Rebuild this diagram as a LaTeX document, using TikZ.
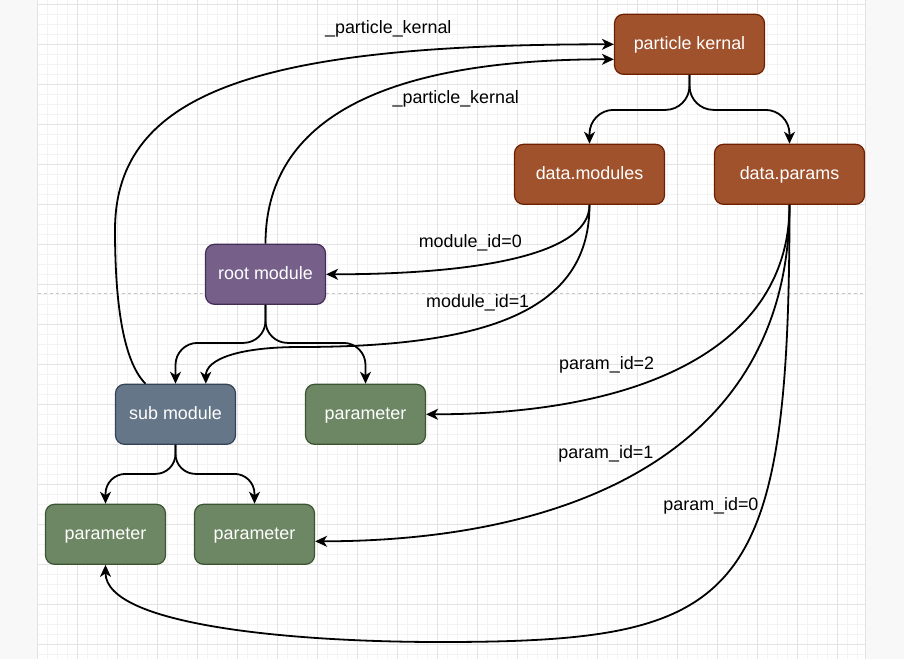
\documentclass[tikz,border=0pt]{standalone}
\usepackage{fontspec}
\setmainfont{Liberation Sans}
\usetikzlibrary{positioning,arrows.meta,calc}
\definecolor{outside}{HTML}{F8F8F8}
\definecolor{gridminor}{HTML}{F3F3F3}
\definecolor{gridmajor}{HTML}{E3E3E3}
\definecolor{kernfill}{HTML}{A0522D}
\definecolor{kernline}{HTML}{6D1F00}
\definecolor{rootfill}{HTML}{76608A}
\definecolor{rootline}{HTML}{432D57}
\definecolor{subfill}{HTML}{647687}
\definecolor{subline}{HTML}{314354}
\definecolor{parfill}{HTML}{6D8764}
\definecolor{parline}{HTML}{3A5431}

\begin{document}
\begin{tikzpicture}[x=1pt,y=-1pt,>={Stealth[length=12pt,width=11pt,inset=3.5pt]},on grid,
font=\fontsize{17.9pt}{21pt}\selectfont,
box/.style={draw,rounded corners=9pt,minimum width=120pt,minimum height=60pt,line width=1.2pt,
  text=white,text height=13.5pt,text depth=2.5pt},
kern/.style={box,fill=kernfill,draw=kernline,minimum width=150pt},
rootbox/.style={box,fill=rootfill,draw=rootline},
subbox/.style={box,fill=subfill,draw=subline},
parbox/.style={box,fill=parfill,draw=parline},
link/.style={->,line width=1.8pt}]
\useasboundingbox (0,0) rectangle (904,659);
\fill[outside] (0,0) rectangle (904,659);
\fill[white] (37.5,0) rectangle (865,659);
\foreach \k in {0,...,82} \draw[gridminor,line width=0.8pt] (37.7+10*\k,0) -- (37.7+10*\k,659);
\foreach \k in {0,...,65} \draw[gridminor,line width=0.8pt] (37.5,4.3+10*\k) -- (865,4.3+10*\k);
\foreach \k in {0,...,20} \draw[gridmajor,line width=0.8pt] (37.7+40*\k,0) -- (37.7+40*\k,659);
\foreach \k in {0,...,16} \draw[gridmajor,line width=0.8pt] (37.5,4.3+40*\k) -- (865,4.3+40*\k);
\draw[gridmajor] (37.5,0) -- (37.5,659) (865,0) -- (865,659);
\draw[gray!45,dash pattern=on 3pt off 3pt] (37.5,293) -- (865,293);

\node[kern] (kernal) at (689.5,44.3) {particle kernal};
\node[kern,below left=130pt and 100pt of kernal] (mods) {data.modules};
\node[kern,right=200pt of mods] (params) {data.params};
\node[rootbox] (root) at (265.5,274.3) {root module};
\node[subbox,below left=140pt and 90pt of root] (sub) {sub module};
\node[parbox,right=190pt of sub] (parm) {parameter};
\node[parbox,below left=120pt and 70pt of sub] (leafa) {parameter};
\node[parbox,right=149pt of leafa] (leafb) {parameter};
\coordinate (kturn) at (115,230);
\coordinate (modturn) at (300,347);
\coordinate (lowturn) at (440,642);

\draw[link,rounded corners=24pt] (kernal.south) -- ++(0,35) -| (mods.north);
\draw[link,rounded corners=24pt] (kernal.south) -- ++(0,35) -| (params.north);
\draw[link,rounded corners=22pt] (root.south) -- ++(0,38) -| (sub.north);
\draw[link,rounded corners=22pt] (root.south) -- ++(0,38) -| (parm.north);
\draw[link,rounded corners=20pt] (sub.south) -- ++(0,29) -| (leafa.north);
\draw[link,rounded corners=20pt] (sub.south) -- ++(0,29) -| (leafb.north);
\draw[link] (mods.south) .. controls +(0,50) and +(150,0) .. (root.east) node[pos=0.64,yshift=23pt] {module\_id=0};
\draw[link] (mods.south) .. controls +(0,100) and +(200,0) .. (modturn) node[pos=0.63,yshift=26pt] {module\_id=1}
  .. controls +(-60,0) and +(0,-25) .. ($(sub.north)!0.5!(sub.north east)$);
\draw[link] (params.south) .. controls +(0,140) and +(220,0) .. (parm.east) node[pos=0.69,yshift=29pt] {param\_id=2};
\draw[link] (params.south) .. controls +(0,250) and +(250,0) .. ($(leafb.east)+(0,7)$) node[pos=0.573,yshift=34pt] {param\_id=1};
\draw[link] (params.south) .. controls +(0,400) and +(300,0) .. (lowturn) node[pos=0.35,left] {param\_id=0}
  .. controls +(-150,0) and +(0,60) .. (leafa.south);
\draw[link] ($(sub.north)+(-30,0)$) .. controls +(-25,-25) and +(0,60) .. (kturn)
  .. controls +(0,-140) and +(-350,0) .. (kernal.west) node[pos=0.75,yshift=25pt] {\_particle\_kernal};
\draw[link] (root.north) .. controls +(0,-135) and +(-210,0) .. ($(kernal.west)+(0,15)$) node[pos=0.72,yshift=-27.5pt] {\_particle\_kernal};
\end{tikzpicture}
\end{document}
